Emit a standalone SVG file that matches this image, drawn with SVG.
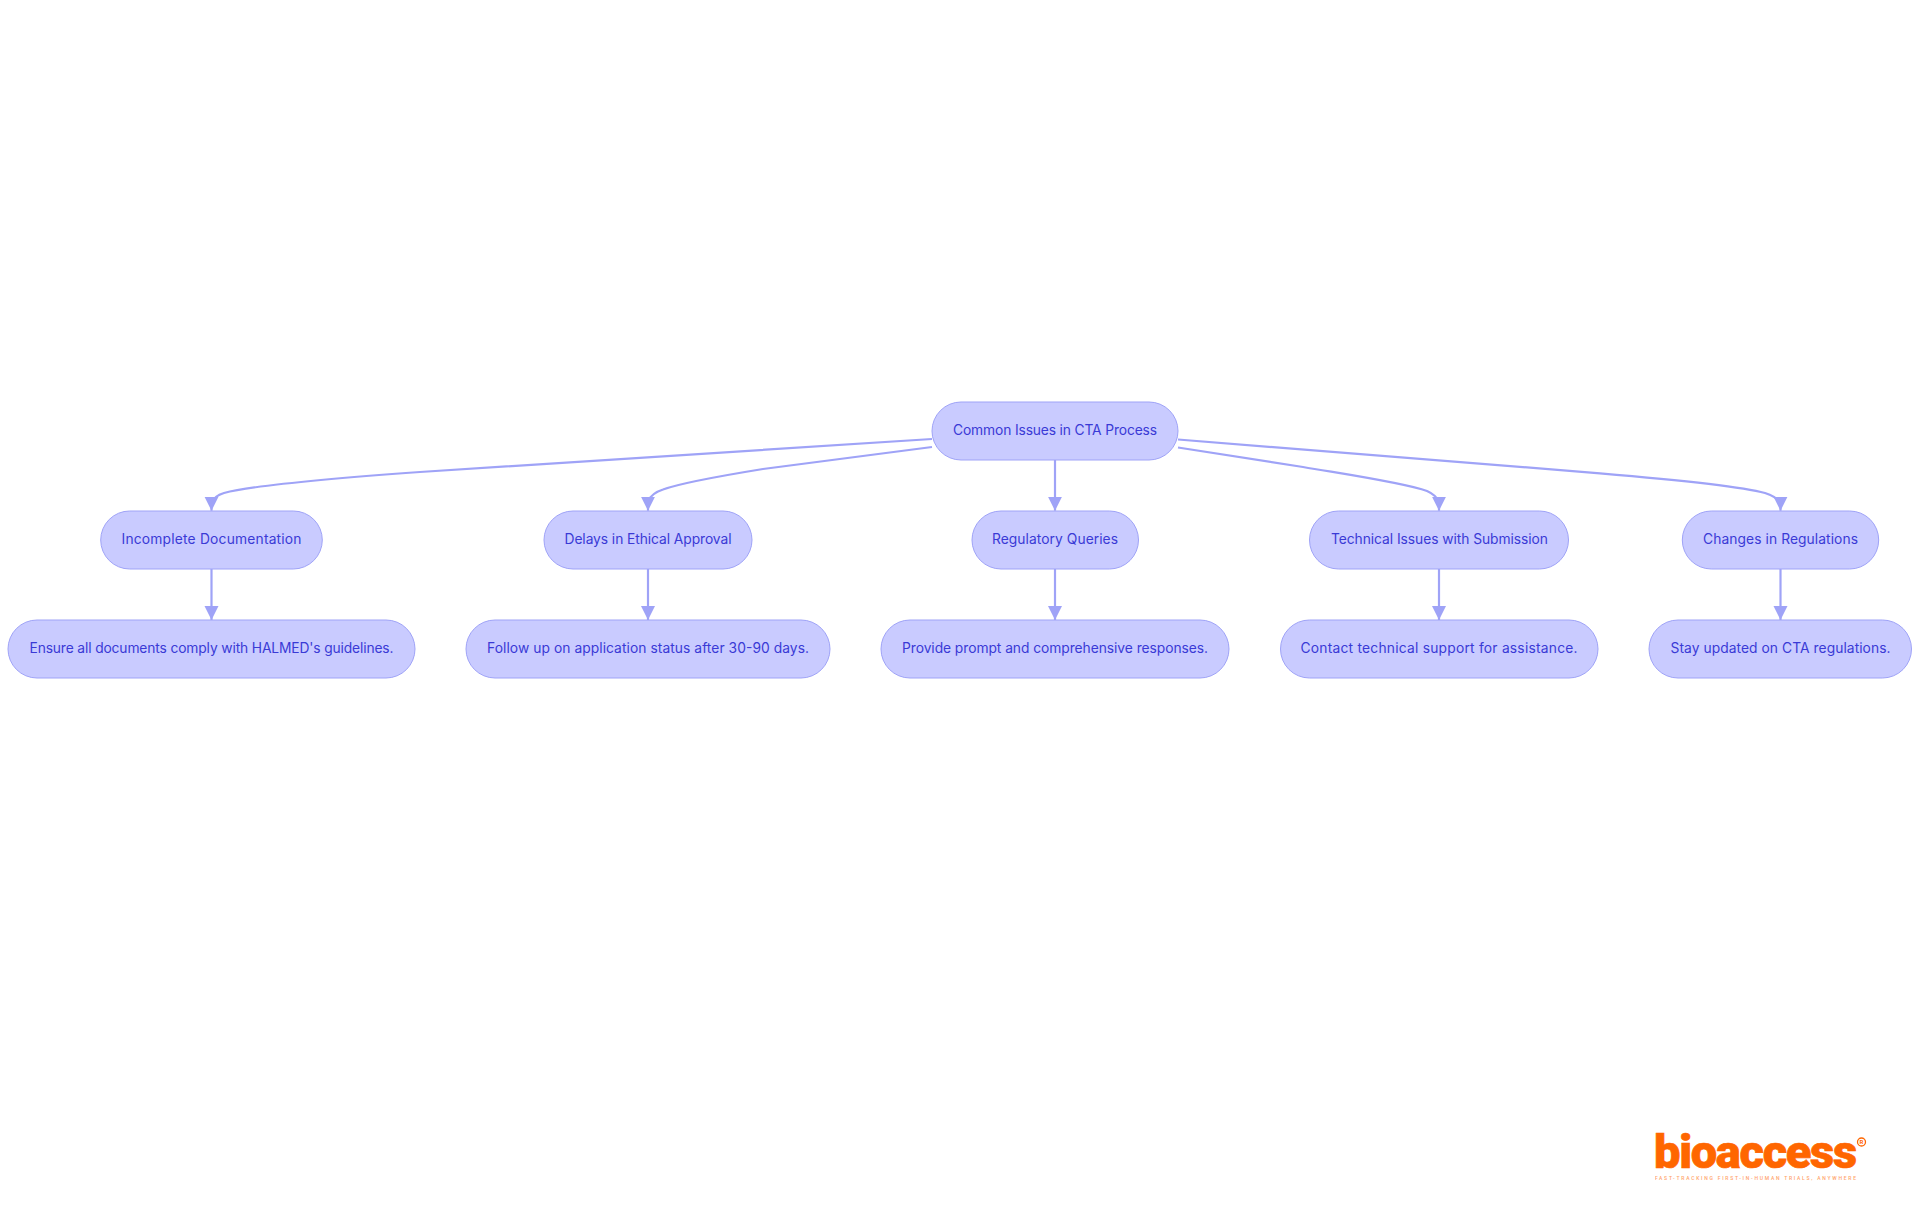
<svg xmlns="http://www.w3.org/2000/svg" width="1920" height="1215" viewBox="0 0 1920 1215">
<style>
.n rect{fill:#c9cbff;stroke:#9fa3f7;stroke-width:1}
.n text{font-family:"Inter","Noto Sans",sans-serif;font-size:13.8px;fill:#3a3ad6;text-anchor:middle;dominant-baseline:central}
.c{fill:none;stroke:#9fa3f7;stroke-width:2.2}
</style>
<defs><marker id="a" markerUnits="userSpaceOnUse" markerWidth="15" markerHeight="15" refX="14" refY="7" orient="auto"><path d="M0,0L14,7L0,14z" fill="#9fa3f7"/></marker></defs>
<rect width="1920" height="1215" fill="#fff"/>
<g id="connectors">
<path class="c" marker-end="url(#a)" d="M932,439L420,472C330,478.500 250,486 224,493Q214,496 211.500,503V510.700"/>
<path class="c" marker-end="url(#a)" d="M932,447L763,469C720,476 682,482.500 663,489.500Q652,493 648,501V510.700"/>
<path class="c" marker-end="url(#a)" d="M1055,460V510.700"/>
<path class="c" marker-end="url(#a)" d="M1178,447.500L1303,467C1350,475 1405,483 1427,491Q1436,495 1439,502V510.700"/>
<path class="c" marker-end="url(#a)" d="M1178,439.500L1600,473.300C1680,480 1740,486 1765,493Q1777,497 1780.500,503V510.700"/>
<path class="c" marker-end="url(#a)" d="M211.500,569V620"/>
<path class="c" marker-end="url(#a)" d="M648,569V620"/>
<path class="c" marker-end="url(#a)" d="M1055,569V620"/>
<path class="c" marker-end="url(#a)" d="M1439,569V620"/>
<path class="c" marker-end="url(#a)" d="M1780.500,569V620"/>
</g>
<g id="root" class="n"><rect x="932" y="402" width="246" height="58" rx="29"/><text x="1055" y="430" textLength="204">Common Issues in CTA Process</text></g>
<g id="n1" class="n"><rect x="100.700" y="511" width="221.600" height="58" rx="29"/><text x="211.500" y="539" textLength="180">Incomplete Documentation</text></g>
<g id="n2" class="n"><rect x="544" y="511" width="208" height="58" rx="29"/><text x="648" y="539" textLength="167">Delays in Ethical Approval</text></g>
<g id="n3" class="n"><rect x="972" y="511" width="166.500" height="58" rx="29"/><text x="1055" y="539" textLength="126">Regulatory Queries</text></g>
<g id="n4" class="n"><rect x="1309.500" y="511" width="259" height="58" rx="29"/><text x="1439.500" y="539" textLength="217">Technical Issues with Submission</text></g>
<g id="n5" class="n"><rect x="1682.300" y="511" width="196.400" height="58" rx="29"/><text x="1780.500" y="539" textLength="155">Changes in Regulations</text></g>
<g id="m1" class="n"><rect x="8" y="620" width="407" height="58" rx="29"/><text x="211.500" y="648" textLength="364">Ensure all documents comply with HALMED's guidelines.</text></g>
<g id="m2" class="n"><rect x="466" y="620" width="364" height="58" rx="29"/><text x="648" y="648" textLength="322">Follow up on application status after 30-90 days.</text></g>
<g id="m3" class="n"><rect x="881" y="620" width="348" height="58" rx="29"/><text x="1055" y="648" textLength="306">Provide prompt and comprehensive responses.</text></g>
<g id="m4" class="n"><rect x="1280.500" y="620" width="317.500" height="58" rx="29"/><text x="1439" y="648" textLength="277">Contact technical support for assistance.</text></g>
<g id="m5" class="n"><rect x="1649" y="620" width="262.500" height="58" rx="29"/><text x="1780.500" y="648" textLength="220">Stay updated on CTA regulations.</text></g>
<g id="logo" fill="#ff6600" font-family="Roboto,Inter,sans-serif">
<text x="1654" y="1168" font-size="47" font-weight="900" stroke="#ff6600" stroke-width=".7" textLength="203" lengthAdjust="spacing">bioaccess</text>
<circle cx="1861.500" cy="1142" r="4" fill="none" stroke="#ff6600" stroke-width="1.3"/>
<text x="1861.500" y="1144" font-size="6" font-weight="700" text-anchor="middle">R</text>
<text x="1655" y="1179.500" font-size="5" font-weight="500" opacity=".6" textLength="201">FAST-TRACKING FIRST-IN-HUMAN TRIALS, ANYWHERE</text>
</g>
</svg>
